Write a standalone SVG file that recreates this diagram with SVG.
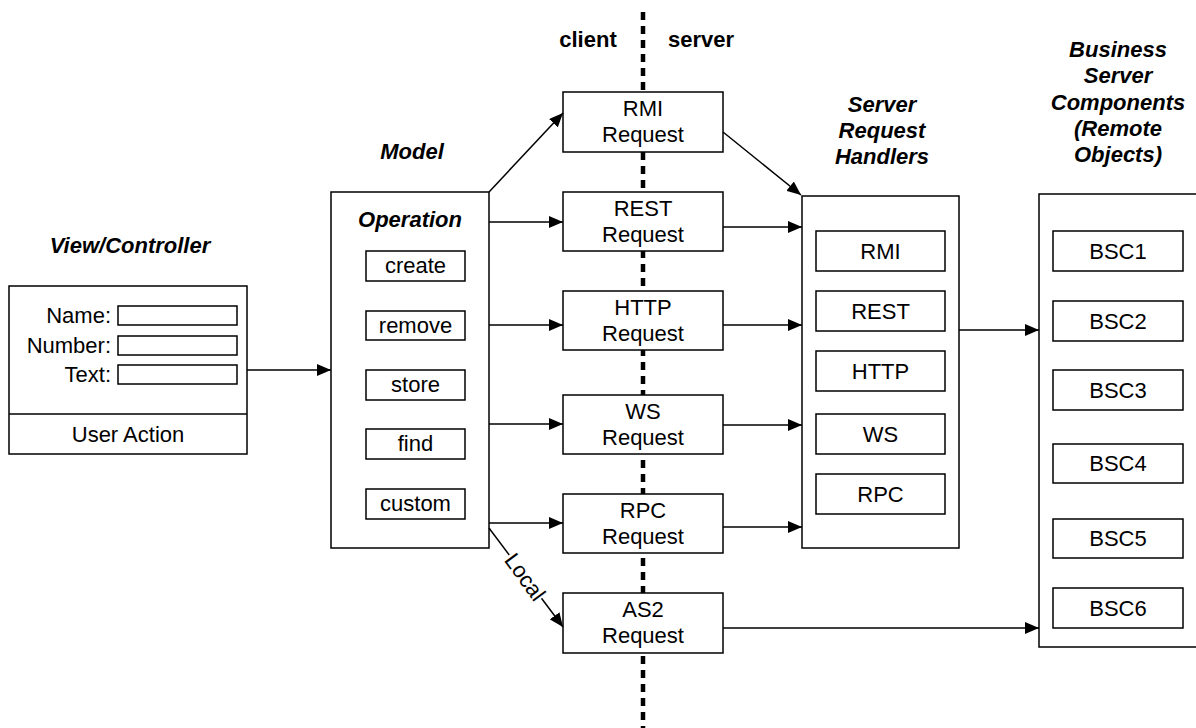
<svg xmlns="http://www.w3.org/2000/svg" width="1196" height="728" viewBox="0 0 1196 728">
<defs>
<marker id="ah" markerWidth="14" markerHeight="12" refX="14" refY="6" orient="auto" markerUnits="userSpaceOnUse">
<path d="M0,0 L14,6 L0,12 z" fill="#000"/>
</marker>
<style>
.box{fill:#fff;stroke:#000;stroke-width:1.5}
.t{font-family:"Liberation Sans",Arial,sans-serif;font-size:22px;fill:#000;text-anchor:middle}
.r{text-anchor:end}
.bi{font-weight:bold;font-style:italic}
.b{font-weight:bold}
.c{fill:none;stroke:#000;stroke-width:1.5;marker-end:url(#ah)}
.div{stroke:#000;stroke-width:4.5;stroke-dasharray:8 6}
</style>
</defs>
<rect width="1196" height="728" fill="#fff"/>
<line class="div" x1="643" y1="12" x2="643" y2="728"/>
<g id="labels">
<text class="t bi" x="130" y="253">View/Controller</text>
<text class="t bi" x="412" y="159">Model</text>
<text class="t b" x="588" y="47">client</text>
<text class="t b" x="701" y="47">server</text>
<text class="t bi" x="882" y="112">Server</text>
<text class="t bi" x="882" y="138">Request</text>
<text class="t bi" x="882" y="164">Handlers</text>
<text class="t bi" x="1118" y="57">Business</text>
<text class="t bi" x="1118" y="83">Server</text>
<text class="t bi" x="1118" y="110">Components</text>
<text class="t bi" x="1118" y="136">(Remote</text>
<text class="t bi" x="1118" y="162">Objects)</text>
</g>
<g id="view-controller">
<rect class="box" x="9" y="286" width="238" height="168"/>
<line x1="9" y1="414" x2="247" y2="414" stroke="#000" stroke-width="1.5"/>
<text class="t r" x="111" y="323">Name:</text>
<rect class="box" x="118" y="306" width="119" height="19"/>
<text class="t r" x="111" y="353">Number:</text>
<rect class="box" x="118" y="336" width="119" height="19"/>
<text class="t r" x="111" y="382">Text:</text>
<rect class="box" x="118" y="365" width="119" height="19"/>
<text class="t" x="128" y="442">User Action</text>
</g>
<g id="model">
<rect class="box" x="331" y="192" width="158" height="356"/>
<text class="t bi" x="410" y="227">Operation</text>
<rect class="box" x="366" y="251" width="99" height="30"/>
<text class="t" x="415.5" y="273">create</text>
<rect class="box" x="366" y="311" width="99" height="29"/>
<text class="t" x="415.5" y="333">remove</text>
<rect class="box" x="366" y="370" width="99" height="30"/>
<text class="t" x="415.5" y="392">store</text>
<rect class="box" x="366" y="429" width="99" height="30"/>
<text class="t" x="415.5" y="451">find</text>
<rect class="box" x="366" y="489" width="99" height="30"/>
<text class="t" x="415.5" y="511">custom</text>
</g>
<g id="rmi-request">
<rect class="box" x="563" y="92" width="160" height="60"/>
<text class="t" x="643" y="116">RMI</text>
<text class="t" x="643" y="142">Request</text>
</g>
<g id="rest-request">
<rect class="box" x="563" y="192" width="160" height="59"/>
<text class="t" x="643" y="215.5">REST</text>
<text class="t" x="643" y="241.5">Request</text>
</g>
<g id="http-request">
<rect class="box" x="563" y="291" width="160" height="59"/>
<text class="t" x="643" y="314.5">HTTP</text>
<text class="t" x="643" y="340.5">Request</text>
</g>
<g id="ws-request">
<rect class="box" x="563" y="395" width="160" height="59"/>
<text class="t" x="643" y="418.5">WS</text>
<text class="t" x="643" y="444.5">Request</text>
</g>
<g id="rpc-request">
<rect class="box" x="563" y="494" width="160" height="59"/>
<text class="t" x="643" y="517.5">RPC</text>
<text class="t" x="643" y="543.5">Request</text>
</g>
<g id="as2-request">
<rect class="box" x="563" y="593" width="160" height="60"/>
<text class="t" x="643" y="617">AS2</text>
<text class="t" x="643" y="643">Request</text>
</g>
<g id="server-request-handlers">
<rect class="box" x="802" y="196" width="157" height="352"/>
<rect class="box" x="816" y="231" width="129" height="40"/>
<text class="t" x="880.5" y="258.5">RMI</text>
<rect class="box" x="816" y="291" width="129" height="40"/>
<text class="t" x="880.5" y="318.5">REST</text>
<rect class="box" x="816" y="351" width="129" height="40"/>
<text class="t" x="880.5" y="378.5">HTTP</text>
<rect class="box" x="816" y="414" width="129" height="40"/>
<text class="t" x="880.5" y="441.5">WS</text>
<rect class="box" x="816" y="474" width="129" height="40"/>
<text class="t" x="880.5" y="501.5">RPC</text>
</g>
<g id="business-server-components">
<rect class="box" x="1039" y="194" width="170" height="453"/>
<rect class="box" x="1053" y="231" width="130" height="40"/>
<text class="t" x="1118" y="258.5">BSC1</text>
<rect class="box" x="1053" y="301" width="130" height="40"/>
<text class="t" x="1118" y="328.5">BSC2</text>
<rect class="box" x="1053" y="370" width="130" height="40"/>
<text class="t" x="1118" y="397.5">BSC3</text>
<rect class="box" x="1053" y="444" width="130" height="39"/>
<text class="t" x="1118" y="471">BSC4</text>
<rect class="box" x="1053" y="519" width="130" height="39"/>
<text class="t" x="1118" y="546">BSC5</text>
<rect class="box" x="1053" y="588" width="130" height="40"/>
<text class="t" x="1118" y="615.5">BSC6</text>
</g>
<g id="connectors">
<line class="c" x1="247" y1="370" x2="331" y2="370"/>
<line class="c" x1="489" y1="192" x2="563" y2="113"/>
<line class="c" x1="489" y1="222" x2="563" y2="222"/>
<line class="c" x1="489" y1="325" x2="563" y2="325"/>
<line class="c" x1="489" y1="424" x2="563" y2="424"/>
<line class="c" x1="489" y1="523" x2="563" y2="523"/>
<line class="c" x1="489" y1="528" x2="563" y2="627"/>
<line class="c" x1="723" y1="132" x2="801" y2="195"/>
<line class="c" x1="723" y1="227" x2="802" y2="227"/>
<line class="c" x1="723" y1="325" x2="802" y2="325"/>
<line class="c" x1="723" y1="425" x2="802" y2="425"/>
<line class="c" x1="723" y1="527" x2="802" y2="527"/>
<line class="c" x1="959" y1="330" x2="1039" y2="330"/>
<line class="c" x1="723" y1="628" x2="1039" y2="628"/>
<g transform="translate(525,577) rotate(53.9)">
<rect x="-27" y="-11" width="54" height="21" fill="#fff"/>
<text class="t" x="0" y="7.5">Local</text>
</g>
</g>
</svg>
